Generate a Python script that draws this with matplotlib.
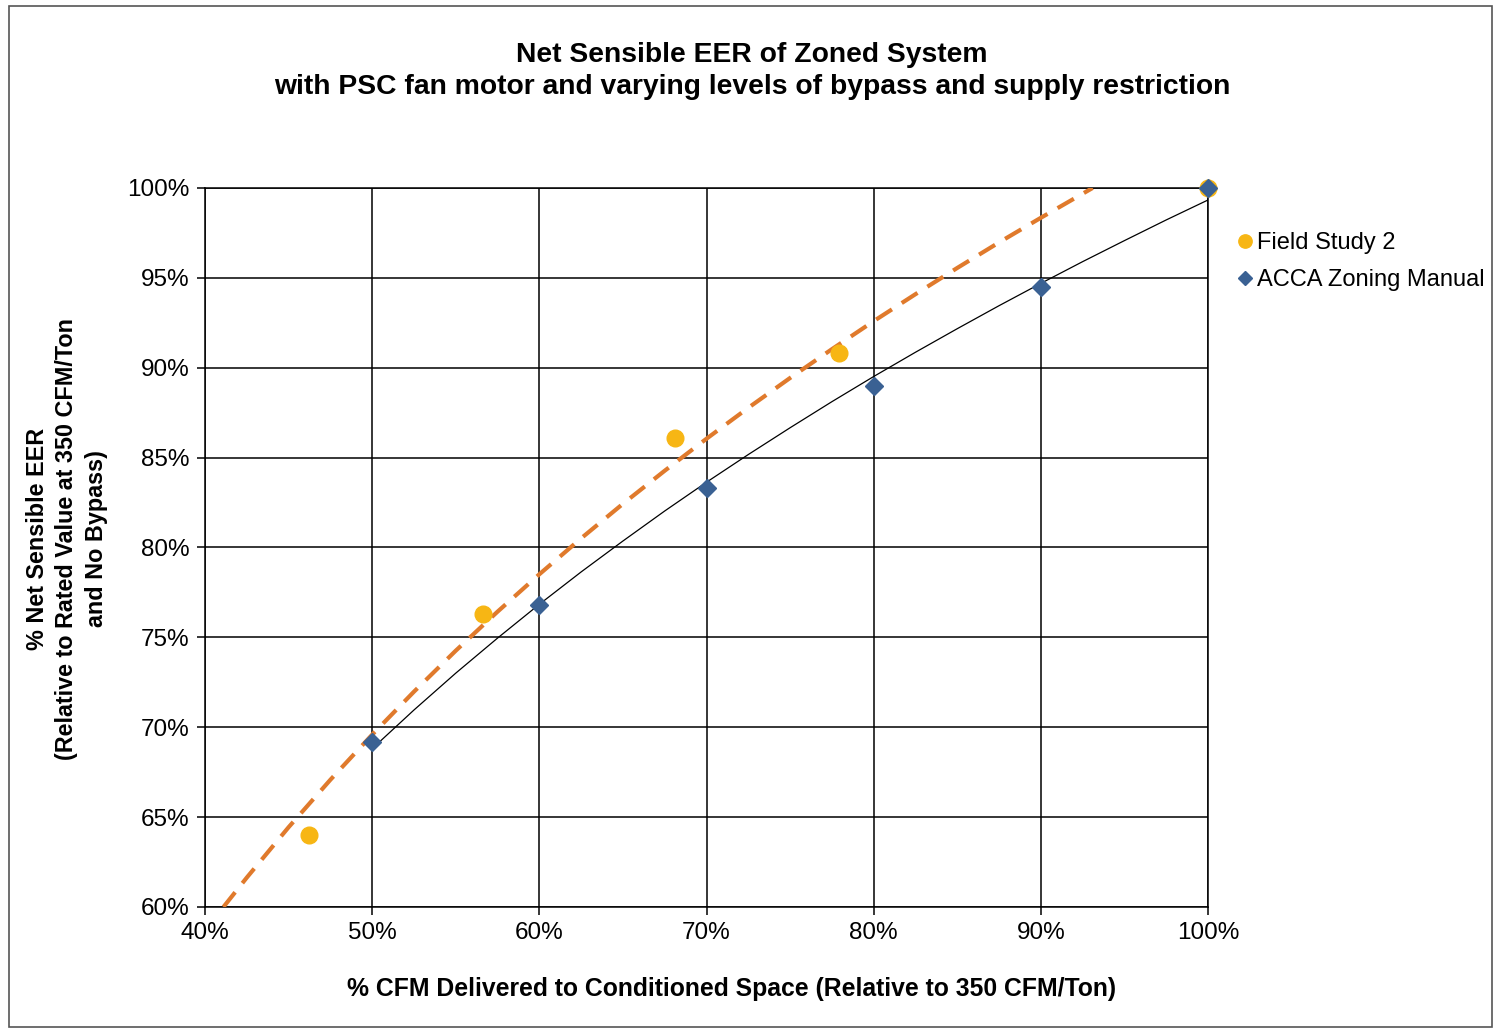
import matplotlib
matplotlib.use('Agg')
import matplotlib.pyplot as plt
from matplotlib.patches import Rectangle
from matplotlib.ticker import FuncFormatter, MultipleLocator

# Field Study 2 measurements (% CFM, % net sensible EER)
field_x = [46.2, 56.6, 68.1, 77.9, 100.0]
field_y = [64.0, 76.3, 86.1, 90.8, 100.0]

# ACCA Zoning Manual values
acca_x = [50, 60, 70, 80, 90, 100]
acca_y = [69.2, 76.8, 83.3, 89.0, 94.5, 100.0]

# trendlines
field_trend_x = [41.1, 42.5, 45, 47.5, 50, 52.5, 55, 57.5, 60, 62.5, 65, 67.5,
                 70, 72.5, 75, 77.5, 80, 82.5, 85, 87.5, 90, 92.5, 93.1]
field_trend_y = [60.0, 61.64, 64.44, 67.08, 69.59, 71.98, 74.26, 76.43, 78.51,
                 80.51, 82.43, 84.27, 86.05, 87.77, 89.43, 91.03, 92.59, 94.09,
                 95.55, 96.97, 98.34, 99.68, 100.0]
acca_trend_x = [50, 52.5, 55, 57.5, 60, 62.5, 65, 67.5, 70, 72.5, 75, 77.5,
                80, 82.5, 85, 87.5, 90, 92.5, 95, 97.5, 100]
acca_trend_y = [68.81, 70.96, 73.01, 74.96, 76.84, 78.64, 80.36, 82.03, 83.63,
                85.17, 86.66, 88.11, 89.51, 90.86, 92.17, 93.45, 94.69, 95.90,
                97.07, 98.22, 99.33]

title = ('Net Sensible EER of Zoned System\n'
         'with PSC fan motor and varying levels of bypass and supply restriction')
xlabel = '% CFM Delivered to Conditioned Space (Relative to 350 CFM/Ton)'
ylabel = '% Net Sensible EER\n(Relative to Rated Value at 350 CFM/Ton\nand No Bypass)'

plt.rcParams['font.family'] = ['Liberation Sans', 'DejaVu Sans']

fig = plt.figure(figsize=(14.98, 10.31), dpi=100)
fig.patches.append(Rectangle((0.006, 0.004), 0.99, 0.99, transform=fig.transFigure,
                             fill=False, edgecolor='#555555', linewidth=1.2))
ax = fig.add_axes([0.1369, 0.1203, 0.6695, 0.6974])

ax.plot(field_trend_x, field_trend_y, color='#E07A2C', linewidth=3,
        linestyle=(0, (4.5, 2.8)), zorder=3)
ax.plot(acca_trend_x, acca_trend_y, color='black', linewidth=0.9, zorder=3)
ax.plot(field_x, field_y, 'o', color='#F7B614', markersize=12, linestyle='none',
        label='Field Study 2', zorder=4, clip_on=False)
ax.plot(acca_x, acca_y, 'D', color='#3A6193', markersize=9.5, linestyle='none',
        label='ACCA Zoning Manual', zorder=5, clip_on=False)

ax.set_xlim(40, 100)
ax.set_ylim(60, 100)
ax.xaxis.set_major_locator(MultipleLocator(10))
ax.yaxis.set_major_locator(MultipleLocator(5))
pct = FuncFormatter(lambda v, p: '%d%%' % round(v))
ax.xaxis.set_major_formatter(pct)
ax.yaxis.set_major_formatter(pct)
ax.grid(True, color='black', linewidth=1.1)
ax.set_axisbelow(True)
for s in ax.spines.values():
    s.set_color('black')
    s.set_linewidth(1.1)
ax.tick_params(length=6, width=1.1, labelsize=17.5, pad=5)

ax.set_xlabel(xlabel, fontsize=17.8, fontweight='bold')
ax.xaxis.set_label_coords(0.525, -0.098)
ax.set_ylabel(ylabel, fontsize=16.8, fontweight='bold', linespacing=1.35)
ax.yaxis.set_label_coords(-0.097, 0.512)
fig.text(0.502, 0.931, title, ha='center', va='center', fontsize=20.3,
         fontweight='bold', linespacing=1.3)

ax.legend(loc='upper left', bbox_to_anchor=(1.005, 0.968), frameon=False,
          fontsize=17, handletextpad=0.05, handlelength=0.9, labelspacing=0.62,
          markerscale=0.8)

fig.savefig('out.png', dpi=100)
